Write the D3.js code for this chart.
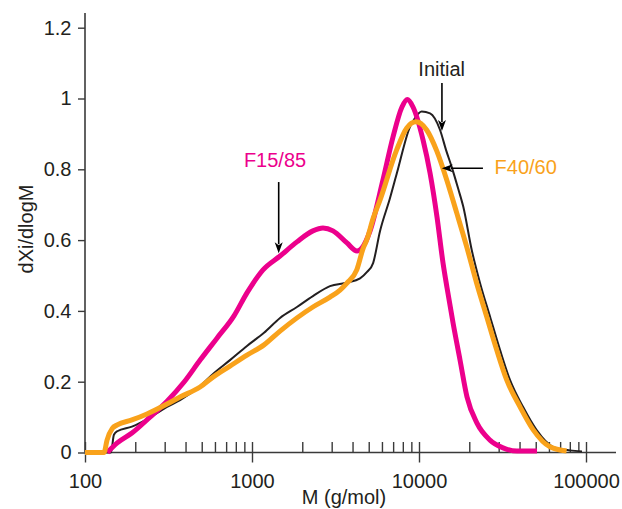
<!DOCTYPE html>
<html>
<head>
<meta charset="utf-8">
<script src="https://cdn.jsdelivr.net/npm/d3@7"></script>
<style>
  html, body { margin: 0; padding: 0; background: #fff; }
  svg { display: block; }
  text { font-family: "Liberation Sans", Arial, Helvetica, sans-serif; }
</style>
</head>
<body>
<svg id="chart" width="622" height="509"></svg>
<script>
// ---------- data ----------
const mInitial = [100,143,149,156,191,242,310,371,489,584,738,933,1180,1472,1858,2316,2930,3704,4436,4886,5311,5840,6700,7380,8830,9460,10380,11650,13370,14510,15760,17120,18420,20690,23190,26620,30550,35060,41960,50530,63450,80210,94630];
const vInitial = [0,0,0.05,0.06,0.073,0.097,0.129,0.148,0.188,0.222,0.261,0.301,0.338,0.380,0.411,0.442,0.470,0.480,0.492,0.510,0.535,0.625,0.718,0.790,0.920,0.945,0.963,0.958,0.911,0.855,0.804,0.747,0.694,0.572,0.479,0.384,0.290,0.205,0.129,0.064,0.016,0.006,0.003];

const mF1585 = [136,156,191,245,310,392,489,617,780,933,1164,1472,1858,2316,2661,3055,3704,4256,4560,5093,6085,6985,7907,8511,9206,10570,11640,12820,13930,14720,15990,17610,19380,22240,26610,31840,38620,50900];
const vF1585 = [0,0.027,0.055,0.100,0.145,0.199,0.261,0.323,0.386,0.451,0.516,0.555,0.595,0.626,0.634,0.626,0.592,0.569,0.578,0.626,0.770,0.891,0.976,0.997,0.976,0.883,0.790,0.665,0.535,0.465,0.366,0.261,0.157,0.083,0.035,0.013,0.004,0.004];

const mF4060 = [100,130,135.5,145.7,156,191,235,310,371,489,584,738,933,1180,1472,2316,2930,3367,3690,4240,4640,4860,5320,5840,7350,8430,9600,11120,12770,14660,16820,19310,22150,25420,29180,33500,40270,48310,60860,76530];
const vF4060 = [0,0,0.035,0.068,0.078,0.092,0.109,0.137,0.157,0.185,0.213,0.244,0.275,0.304,0.343,0.411,0.439,0.459,0.478,0.516,0.578,0.600,0.662,0.713,0.855,0.916,0.934,0.911,0.852,0.770,0.677,0.581,0.478,0.384,0.290,0.205,0.129,0.064,0.016,0.004];

const seriesNames = ["Initial", "F15/85", "F40/60"];
const xMajorTicks = [100, 1000, 10000, 100000];
const xTickLabels = ["100", "1000", "10000", "100000"];
const yTicks = [0, 0.2, 0.4, 0.6, 0.8, 1.0, 1.2];
const yTickLabels = ["0", "0.2", "0.4", "0.6", "0.8", "1", "1.2"];
const xTitle = "M (g/mol)";
const yTitle = "dXi/dlogM";

// ---------- setup ----------
const svg = d3.select("#chart");
const AX = "#3a3a3a";
const TXT = "#231f20";
const MAG = "#EC008C";
const ORG = "#F9A21B";
const BLK = "#231f20";

const x = d3.scaleLog().domain([100, 100000]).range([85, 586]);
const y = d3.scaleLinear().domain([0, 1.2]).range([452.5, 27.7]);
const y0 = y(0);

// minor ticks
const xMinor = [];
[100, 1000, 10000].forEach(b => { for (let k = 2; k <= 9; k++) xMinor.push(b * k); });

// ---------- axes ----------
const gx = svg.append("g").attr("transform", `translate(0,${y0})`);
gx.call(d3.axisBottom(x).tickValues(xMajorTicks).tickSize(10)
  .tickFormat((d, i) => xTickLabels[i]));
gx.select(".domain").remove();
gx.selectAll(".tick line").attr("y1", -10.5).attr("y2", 10).attr("stroke", AX).attr("stroke-width", 1.4);
gx.selectAll(".tick text").attr("y", 35.5).attr("dy", null)
  .attr("font-size", 20).attr("fill", TXT)
  .attr("font-family", "Liberation Sans, Arial, sans-serif");

const gxm = svg.append("g").attr("transform", `translate(0,${y0})`);
gxm.call(d3.axisBottom(x).tickValues(xMinor).tickSize(0).tickFormat(""));
gxm.select(".domain").remove();
gxm.selectAll(".tick line").attr("y1", -10.5).attr("y2", 0).attr("stroke", AX).attr("stroke-width", 1.4);

svg.append("line").attr("x1", 85).attr("x2", 616).attr("y1", y0).attr("y2", y0)
  .attr("stroke", AX).attr("stroke-width", 1.6);

const gy = svg.append("g").attr("transform", `translate(85,0)`);
gy.call(d3.axisLeft(y).tickValues(yTicks).tickSize(7).tickPadding(6.5)
  .tickFormat((d, i) => yTickLabels[i]));
gy.select(".domain").remove();
gy.selectAll(".tick line").attr("stroke", AX).attr("stroke-width", 1.4);
gy.selectAll(".tick text").attr("font-size", 20).attr("fill", TXT)
  .attr("font-family", "Liberation Sans, Arial, sans-serif");

svg.append("line").attr("x1", 85).attr("x2", 85).attr("y1", y0).attr("y2", 13)
  .attr("stroke", AX).attr("stroke-width", 1.6);

// titles
svg.append("text").attr("x", 344).attr("y", 503.5).attr("text-anchor", "middle")
  .attr("font-size", 20).attr("fill", TXT).text(xTitle);
svg.append("text").attr("transform", "translate(33,229) rotate(-90)")
  .attr("text-anchor", "middle").attr("font-size", 20).attr("fill", TXT).text(yTitle);

// ---------- curves ----------
const line = d3.line().x(d => x(d[0])).y(d => y(d[1])).curve(d3.curveMonotoneX);
const zip = (m, v) => m.map((d, i) => [d, v[i]]);

svg.append("path").datum(zip(mInitial, vInitial)).attr("d", line)
  .attr("fill", "none").attr("stroke", BLK).attr("stroke-width", 2).attr("stroke-linejoin", "round");
svg.append("path").datum(zip(mF1585, vF1585)).attr("d", line)
  .attr("fill", "none").attr("stroke", MAG).attr("stroke-width", 5).attr("stroke-linejoin", "round");
svg.append("path").datum(zip(mF4060, vF4060)).attr("d", line)
  .attr("fill", "none").attr("stroke", ORG).attr("stroke-width", 5).attr("stroke-linejoin", "round");

// ---------- annotations ----------
function arrow(x1, y1, x2, y2) {
  const dx = x2 - x1, dy = y2 - y1, L = Math.hypot(dx, dy);
  const ux = dx / L, uy = dy / L, px = -uy, py = ux;
  const hl = 11, hw = 4, notch = 3;
  svg.append("line").attr("x1", x1).attr("y1", y1)
    .attr("x2", x2 - ux * (hl - 2)).attr("y2", y2 - uy * (hl - 2))
    .attr("stroke", "#000").attr("stroke-width", 1.6);
  const bx = x2 - ux * hl, by = y2 - uy * hl;
  const nx = x2 - ux * (hl - notch), ny = y2 - uy * (hl - notch);
  svg.append("path")
    .attr("d", `M${x2},${y2}L${bx + px * hw},${by + py * hw}L${nx},${ny}L${bx - px * hw},${by - py * hw}Z`)
    .attr("fill", "#000");
}

// Initial
svg.append("text").attr("x", x(13680)).attr("y", y(1.064)).attr("text-anchor", "middle")
  .attr("font-size", 20).attr("fill", TXT).text(seriesNames[0]);
arrow(x(13720), y(1.044), x(13720), y(0.908));
// F15/85
svg.append("text").attr("x", x(1374)).attr("y", y(0.807)).attr("text-anchor", "middle")
  .attr("font-size", 20).attr("fill", MAG).text(seriesNames[1]);
arrow(x(1445), y(0.764), x(1445), y(0.563));
// F40/60
svg.append("text").attr("x", x(43550)).attr("y", y(0.787)).attr("text-anchor", "middle")
  .attr("font-size", 20).attr("fill", ORG).text(seriesNames[2]);
arrow(x(24150), y(0.803), x(13680), y(0.803));
</script>
</body>
</html>
